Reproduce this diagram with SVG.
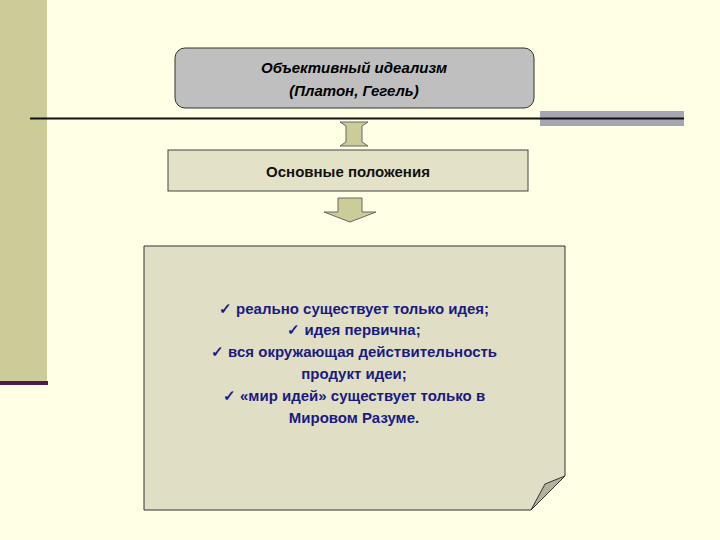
<svg xmlns="http://www.w3.org/2000/svg" width="720" height="540" viewBox="0 0 720 540">
<style>
.t{font-family:"Liberation Sans",Arial,sans-serif;font-size:15px;text-anchor:middle}
.b{fill:#1a1a80;font-weight:bold}
.ar{fill:#cccc99;stroke:#666;stroke-width:1}
</style>
<rect width="720" height="540" fill="#ffffe6"/>
<rect x="0" y="0" width="47" height="382" fill="#cccc99"/>
<rect x="0" y="381" width="48" height="4" fill="#4d1a4d"/>
<rect x="540" y="111" width="144" height="15" fill="#a6a6b3"/>
<line x1="30" y1="118.5" x2="684" y2="118.5" stroke="#111" stroke-width="2"/>
<g id="top">
<rect x="175" y="48" width="359" height="60" rx="10" fill="#bfbfbf" stroke="#333"/>
<text class="t" x="354" y="73" font-style="italic" font-weight="bold">Объективный идеализм</text>
<text class="t" x="354" y="96" font-style="italic" font-weight="bold">(Платон, Гегель)</text>
</g>
<g id="connectors">
<path class="ar" d="M340,122 L368,122 L362,126 L362,142 L368,146 L340,146 L346,142 L346,126 Z"/>
<path class="ar" d="M338,198 L362,198 L362,212 L376,212 L350,222 L324,212 L338,212 Z"/>
</g>
<g id="mid">
<rect x="168" y="150" width="360" height="41" fill="#e3e1c6" stroke="#444"/>
<text class="t" x="348" y="177" font-weight="bold" fill="#111">Основные положения</text>
</g>
<g id="list">
<path d="M144,246 L565,246 L565,476 L531,510 L144,510 Z" fill="#e0dfc6" stroke="#333"/>
<path d="M565,476 L531,510 L545,484 Z" fill="#b3b3a0" stroke="#333"/>
<text class="t b" x="354" y="314">✓  реально существует только идея;</text>
<text class="t b" x="354" y="335">✓  идея первична;</text>
<text class="t b" x="354" y="357">✓  вся окружающая действительность</text>
<text class="t b" x="354" y="379">продукт идеи;</text>
<text class="t b" x="354" y="401">✓  «мир идей» существует только в</text>
<text class="t b" x="354" y="423">Мировом Разуме.</text>
</g>
</svg>
